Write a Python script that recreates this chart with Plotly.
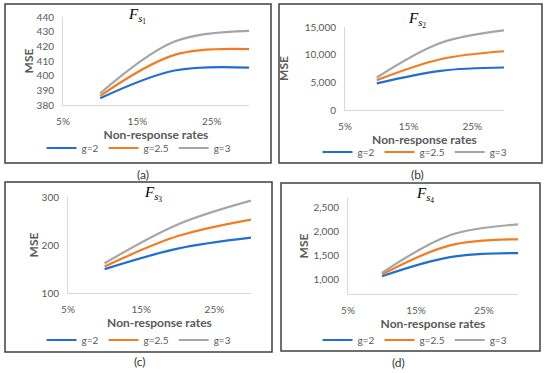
import plotly.graph_objects as go

# ---- data ----
rates = [0.10, 0.20, 0.30]
series_names = ["g=2", "g=2.5", "g=3"]

fs1_g2 = [384.6, 403.5, 405.5]
fs1_g25 = [386.2, 414.2, 418.1]
fs1_g3 = [388.0, 423.3, 430.6]

fs2_g2 = [4800, 7080, 7680]
fs2_g25 = [5400, 9180, 10620]
fs2_g3 = [5880, 12120, 14400]

fs3_g2 = [149.7, 192.4, 215.2]
fs3_g25 = [155.2, 218.6, 253.1]
fs3_g3 = [162.0, 242.8, 292.4]

fs4_g2 = [1071, 1469, 1553]
fs4_g25 = [1106, 1714, 1840]
fs4_g3 = [1141, 1924, 2150]

x_ticks = [0.05, 0.15, 0.25]
captions = ["(a)", "(b)", "(c)", "(d)"]
titles = ["<i>F</i><sub><i>s</i><sub>1</sub></sub>",
          "<i>F</i><sub><i>s</i><sub>2</sub></sub>",
          "<i>F</i><sub><i>s</i><sub>3</sub></sub>",
          "<i>F</i><sub><i>s</i><sub>4</sub></sub>"]

panels = [
    dict(data=[fs1_g2, fs1_g25, fs1_g3], yrange=[380, 440], dtick=10, fmt=""),
    dict(data=[fs2_g2, fs2_g25, fs2_g3], yrange=[0, 15000], dtick=5000, fmt=","),
    dict(data=[fs3_g2, fs3_g25, fs3_g3], yrange=[100, 300], dtick=100, fmt=""),
    dict(data=[fs4_g2, fs4_g25, fs4_g3], yrange=[700, 2700], dtick=500, fmt=","),
]

colors = ["#1F6FD1", "#F47C20", "#A5A5A5"]

W, H = 550, 373
def px(x): return x / W
def py(y): return 1 - y / H

# plot areas in pixels: (x0, x1, ytop, ybottom)
areas = [(63, 249, 17, 105), (345, 504, 27, 110), (68, 251, 197, 293), (348, 518, 198, 294)]
# borders (x0, y0, x1, y1) pixels
borders = [(5, 4, 271, 163), (279, 4, 542, 163), (5, 182, 272, 352), (281, 183, 540, 351)]
caption_pos = [(143, 174), (417, 174), (140, 361), (398, 362)]
title_pos = [(137, 16), (417, 20), (153, 194), (425, 195)]
legend_pos = [(139, 148), (415, 152), (139, 340), (415, 340)]
xtitle_standoff = [1, 3, 3, 4]
ytitle_standoff = [0, 13, 0, 2]

grey = "#595959"
font_fam = "Lato, 'Open Sans', sans-serif"

fig = go.Figure()
layout = dict(width=W, height=H, margin=dict(l=0, r=0, t=0, b=0, autoexpand=False),
              paper_bgcolor="white", plot_bgcolor="white",
              font=dict(family=font_fam, color=grey, size=10),
              shapes=[], annotations=[])

for i, p in enumerate(panels):
    n = "" if i == 0 else str(i + 1)
    leg = "legend" if i == 0 else "legend" + str(i + 1)
    for j in range(3):
        fig.add_trace(go.Scatter(
            x=rates, y=p["data"][j], name=series_names[j], mode="lines",
            line=dict(color=colors[j], width=2.2, shape="spline", smoothing=1.0),
            xaxis="x" + n, yaxis="y" + n, legend=leg, showlegend=True,
            hoverinfo="skip"))
    x0, x1, yt, yb = areas[i]
    layout["xaxis" + n] = dict(
        domain=[px(x0), px(x1)], anchor="y" + n, range=[0.05, 0.30],
        tickvals=x_ticks, tickformat=".0%", showgrid=False, zeroline=False,
        showline=True, linecolor="#D9D9D9", linewidth=1, ticks="",
        ticklabelstandoff=7, tickfont=dict(size=10, color=grey),
        title=dict(text="<b>Non-response rates</b>", font=dict(size=12, color=grey),
                   standoff=xtitle_standoff[i]),
        fixedrange=True)
    layout["yaxis" + n] = dict(
        domain=[py(yb), py(yt)], anchor="x" + n, range=p["yrange"], dtick=p["dtick"],
        tickformat=p["fmt"], showgrid=False, zeroline=False,
        showline=True, linecolor="#D9D9D9", linewidth=1, ticks="",
        ticklabelstandoff=6, tickfont=dict(size=10, color=grey),
        title=dict(text="<b>MSE</b>", font=dict(size=12, color=grey),
                   standoff=ytitle_standoff[i]),
        fixedrange=True)
    lx, ly = legend_pos[i]
    layout[leg] = dict(orientation="h", x=px(lx), y=py(ly), xanchor="center", yanchor="middle",
                       font=dict(size=10, color=grey), bgcolor="rgba(0,0,0,0)",
                       itemwidth=30, tracegroupgap=0)
    bx0, by0, bx1, by1 = borders[i]
    layout["shapes"].append(dict(type="rect", xref="paper", yref="paper",
                                 x0=px(bx0), x1=px(bx1), y0=py(by1), y1=py(by0),
                                 line=dict(color="#404040", width=1.5)))
    cx, cy = caption_pos[i]
    layout["annotations"].append(dict(text=captions[i], xref="paper", yref="paper",
                                      x=px(cx), y=py(cy), showarrow=False,
                                      xanchor="center", yanchor="middle",
                                      font=dict(size=12, color="#333333", family=font_fam)))
    tx, ty = title_pos[i]
    layout["annotations"].append(dict(text=titles[i], xref="paper", yref="paper",
                                      x=px(tx), y=py(ty), showarrow=False,
                                      xanchor="center", yanchor="middle",
                                      font=dict(size=15, color="#000000",
                                                family="'Liberation Serif', 'DejaVu Serif', serif")))

fig.update_layout(**layout)
fig.write_html("out.html", config={"displayModeBar": False},
               post_script="document.body.style.margin='0';document.body.style.overflow='hidden';")
